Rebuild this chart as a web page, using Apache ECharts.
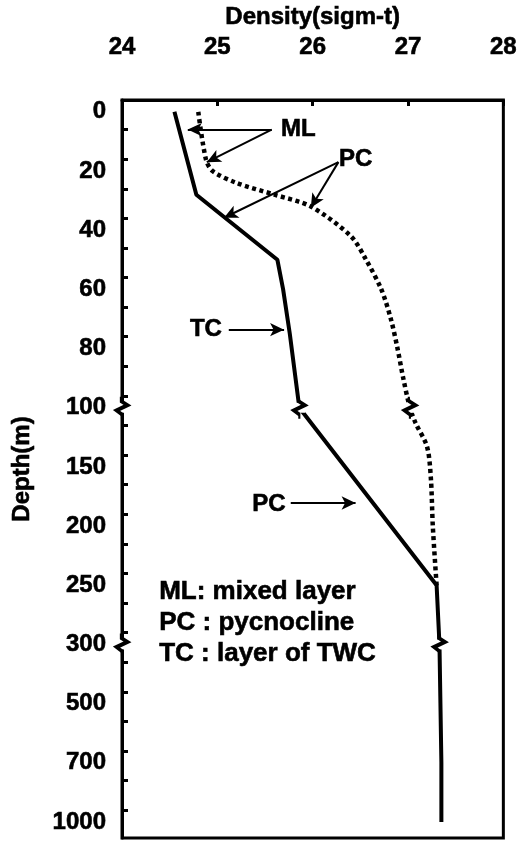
<!DOCTYPE html>
<html><head><meta charset="utf-8">
<script src="https://cdn.jsdelivr.net/npm/echarts@6/dist/echarts.min.js"></script>
<style>html,body{margin:0;padding:0;background:#fff}#c{width:520px;height:845px}</style>
</head><body><div id="c"></div>
<script>
// ---- data ----
const depthTicks = [0, 20, 40, 60, 80, 100, 150, 200, 250, 300, 500, 700, 1000];
const densityMin = 24, densityMax = 28;

const solidDepth   = [0, 28, 50, 60, 75, 100, 250, 300, 500, 700, 1000];
const solidDensity = [24.55, 24.78, 25.63, 25.69, 25.76, 25.86, 27.30, 27.33, 27.34, 27.35, 27.35];

const dottedDepth   = [0, 16, 20, 24, 28, 32, 42, 50, 60, 70, 80, 90, 100, 113, 133, 160, 200, 250];
const dottedDensity = [24.80, 24.88, 24.95, 25.20, 25.60, 25.98, 26.40, 26.56, 26.72, 26.82, 26.89, 26.95, 27.02, 27.08, 27.20, 27.24, 27.26, 27.30];

const axisBreakDepths = [100, 300];
const lineBreakDepths = [100, 100, 300];
const lineBreakDensity = [25.86, 27.02, 27.33];

const legendLines = ['ML: mixed layer', 'PC : pycnocline', 'TC : layer of TWC'];

// ---- helpers ----
function depthToPos(d) {
  for (let i = 0; i < depthTicks.length - 1; i++) {
    if (d <= depthTicks[i + 1]) return i + (d - depthTicks[i]) / (depthTicks[i + 1] - depthTicks[i]);
  }
  return depthTicks.length - 1;
}
const solidData = solidDepth.map((d, i) => [solidDensity[i], depthToPos(d)]);
const dottedData = dottedDepth.map((d, i) => [dottedDensity[i], depthToPos(d)]);
const breakPts = axisBreakDepths.map(d => [densityMin, depthToPos(d)])
  .concat(lineBreakDepths.map((d, i) => [lineBreakDensity[i], depthToPos(d)]));

const labelIdx = depthTicks.map((d, i) => i);
const minorTicks = [];
for (let i = 0; i < 24; i++) minorTicks.push(0.3 + i * 0.5);

// annotation anchors (density, axis position)
const annotLabels = [
  {t: 'ML', p: [25.85, 0.30]},
  {t: 'PC', p: [26.45, 0.81]},
  {t: 'TC', p: [24.88, 3.68]},
  {t: 'PC', p: [25.54, 6.64]}
];
const arrows = [
  [[25.57, 0.30], [24.69, 0.30]],
  [[25.57, 0.30], [24.89, 0.85]],
  [[26.27, 0.85], [25.07, 1.79]],
  [[26.27, 0.85], [25.98, 1.62]],
  [[25.12, 3.68], [25.70, 3.68]],
  [[25.77, 6.61], [26.45, 6.61]]
];
const legendAnchor = [24.39, 8.11];
const legendStep = 0.52;

const FONT = '"Liberation Sans", Arial, sans-serif';
const txt = {fontFamily: FONT, fontWeight: 'bold', fontSize: 24, color: '#000',
  textBorderColor: '#000', textBorderWidth: 0.6};
const legendTxt = Object.assign({}, txt, {fontSize: 26});

const chart = echarts.init(document.getElementById('c'));
chart.setOption({
  animation: false,
  backgroundColor: '#fff',
  grid: {left: 122, right: 14, top: 100, bottom: 7, show: true, borderColor: '#000', borderWidth: 3},
  xAxis: {
    type: 'value', position: 'top', min: densityMin, max: densityMax, interval: 1,
    name: 'Density(sigm-t)', nameLocation: 'middle', nameGap: 70, nameTextStyle: txt,
    axisLine: {show: true, onZero: false, lineStyle: {color: '#000', width: 3}},
    axisTick: {show: true, inside: true, length: 6, lineStyle: {color: '#000', width: 3}},
    axisLabel: Object.assign({margin: 41}, txt),
    splitLine: {show: false}
  },
  yAxis: {
    type: 'value', inverse: true, min: -0.2, max: 12.27,
    name: 'Depth(m)', nameLocation: 'middle', nameGap: 88, nameRotate: 90, nameTextStyle: txt,
    axisLine: {show: true, onZero: false, lineStyle: {color: '#000', width: 3}},
    axisTick: {show: true, inside: true, length: 6, customValues: minorTicks, lineStyle: {color: '#000', width: 3}},
    axisLabel: Object.assign({margin: 16, customValues: labelIdx, formatter: v => String(depthTicks[Math.round(v)])}, txt),
    splitLine: {show: false}
  },
  series: [
    {
      type: 'line', name: 'solid', data: solidData, showSymbol: false, symbol: 'none',
      lineStyle: {color: '#000', width: 4}, z: 3
    },
    {
      type: 'line', name: 'dotted', data: dottedData, showSymbol: false, symbol: 'none', smooth: 0.3,
      lineStyle: {color: '#000', width: 4.5, type: [4, 3.5]}, z: 3
    },
    {
      type: 'scatter', name: 'breakMask', data: breakPts, clip: false, symbol: 'rect', symbolSize: [12, 10],
      itemStyle: {color: '#fff', opacity: 1}, z: 5, silent: true
    },
    {
      type: 'scatter', name: 'breakZig', data: breakPts, clip: false,
      symbol: 'path://M4,0 L4,4 L10,8 L0,13 L5,17 L5,21', symbolSize: [11, 22],
      itemStyle: {color: 'rgba(0,0,0,0)', borderColor: '#000', borderWidth: 3, opacity: 1}, z: 6, silent: true
    },
    {
      type: 'scatter', name: 'annot', clip: false, symbolSize: 0, silent: true, z: 7,
      itemStyle: {opacity: 1},
      data: annotLabels.map(a => ({value: a.p, label: Object.assign({show: true, position: 'inside', formatter: a.t}, txt)}))
        .concat(legendLines.map((t, i) => ({
          value: [legendAnchor[0], legendAnchor[1] + i * legendStep],
          label: Object.assign({show: true, position: 'right', distance: 0, formatter: t}, legendTxt)
        }))),
      label: Object.assign({show: true}, txt),
      markLine: {
        silent: true, symbol: ['none', 'arrow'], symbolSize: [10, 14], animation: false,
        lineStyle: {color: '#000', width: 2, type: 'solid', opacity: 1}, label: {show: false},
        data: arrows.map(a => [{coord: a[0]}, {coord: a[1]}])
      }
    }
  ]
});
</script>
</body></html>
